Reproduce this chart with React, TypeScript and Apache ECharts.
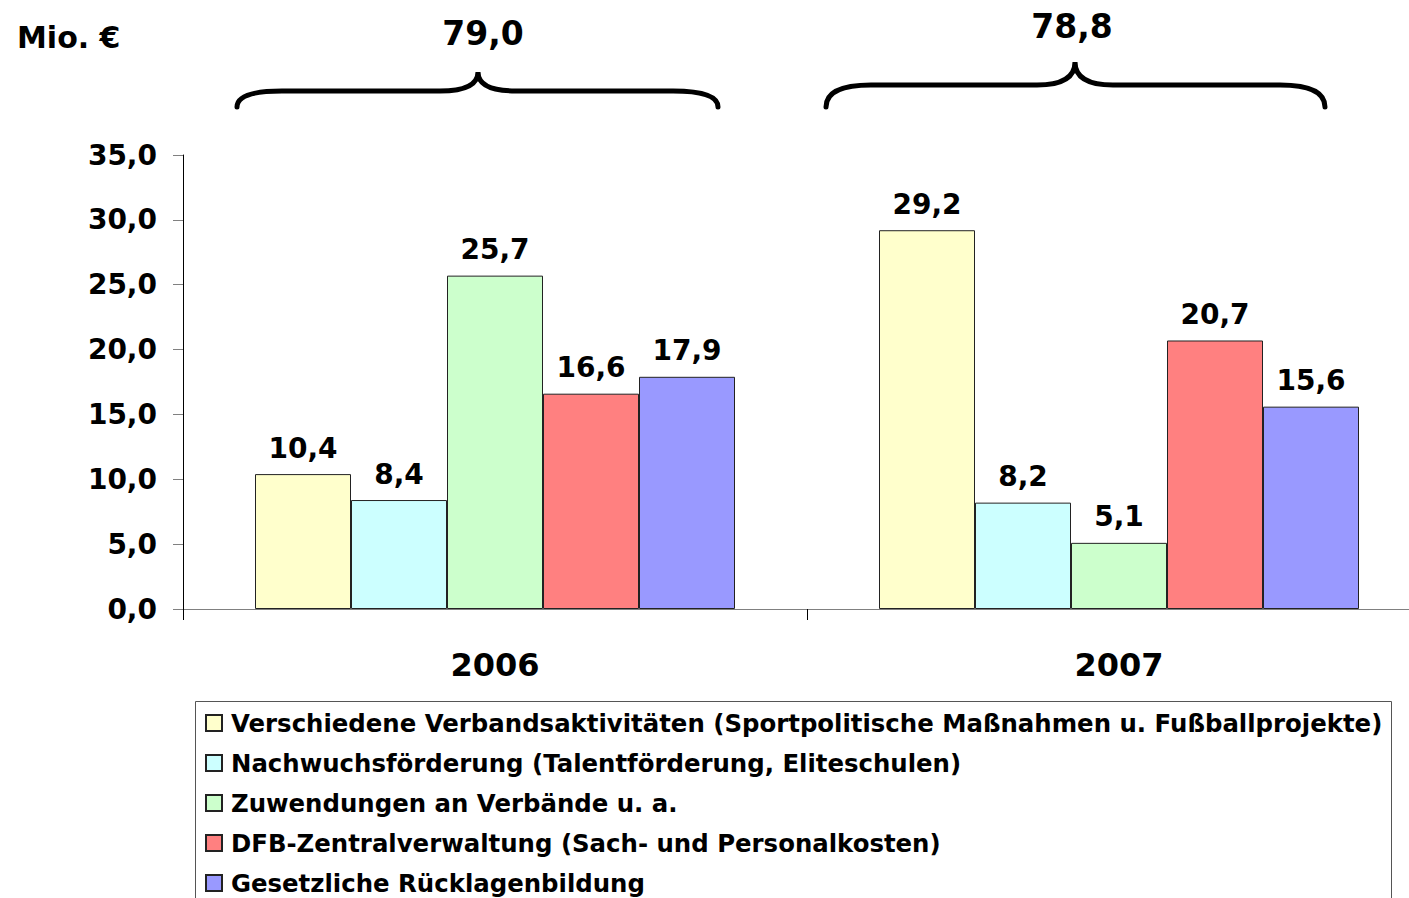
import React, { useEffect, useRef } from "react";
import * as echarts from "echarts";

const years = ["2006", "2007"];
const seriesNames = [
  "Verschiedene Verbandsaktivitäten (Sportpolitische Maßnahmen u. Fußballprojekte)",
  "Nachwuchsförderung (Talentförderung, Eliteschulen)",
  "Zuwendungen an Verbände u. a.",
  "DFB-Zentralverwaltung (Sach- und Personalkosten)",
  "Gesetzliche Rücklagenbildung",
];
const verbandsaktivitaeten = [10.4, 29.2];
const nachwuchs = [8.4, 8.2];
const zuwendungen = [25.7, 5.1];
const zentralverwaltung = [16.6, 20.7];
const ruecklagen = [17.9, 15.6];
const seriesValues = [verbandsaktivitaeten, nachwuchs, zuwendungen, zentralverwaltung, ruecklagen];
const colors = ["#FFFFCC", "#CCFFFF", "#CCFFCC", "#FF8080", "#9999FF"];
const totals = [79.0, 78.8];
const unitLabel = "Mio. €";

const FONT = "'DejaVu Sans', sans-serif";
const fmt = (v: number) => v.toFixed(1).replace(".", ",");

function bracePath(x1: number, x2: number, xc: number, yEnd: number, yMid: number, yPeak: number) {
  const r = 45;
  const r2 = 38;
  return (
    `M ${x1} ${yEnd} Q ${x1} ${yMid} ${x1 + r} ${yMid} ` +
    `L ${xc - r2} ${yMid} Q ${xc} ${yMid} ${xc} ${yPeak} ` +
    `Q ${xc} ${yMid} ${xc + r2} ${yMid} L ${x2 - r} ${yMid} ` +
    `Q ${x2} ${yMid} ${x2} ${yEnd}`
  );
}

let registered = false;
function registerShapes() {
  if (registered) return;
  registered = true;
  echarts.graphic.registerShape(
    "braceLeft",
    echarts.graphic.extendPath(bracePath(237, 718, 478, 107, 91, 72), {})
  );
  echarts.graphic.registerShape(
    "braceRight",
    echarts.graphic.extendPath(bracePath(826, 1325, 1075, 107, 85, 62), {})
  );
}

export default function App() {
  const ref = useRef<HTMLDivElement>(null);
  useEffect(() => {
    if (!ref.current) return;
    registerShapes();
    const chart = echarts.init(ref.current, undefined, { renderer: "svg" });
    const braceStyle = { stroke: "#000", lineWidth: 5, fill: null, lineCap: "round" };
    chart.setOption({
      animation: false,
      backgroundColor: "#fff",
      grid: { left: 183, right: 9, top: 155, bottom: 289, containLabel: false },
      xAxis: {
        type: "category",
        data: years,
        axisLine: { show: true, lineStyle: { color: "#808080", width: 1 } },
        axisTick: { show: true, length: 11, lineStyle: { color: "#000", width: 1 } },
        axisLabel: {
          margin: 40,
          fontFamily: FONT,
          fontWeight: "bold",
          fontSize: 32,
          color: "#000",
        },
      },
      yAxis: {
        type: "value",
        min: 0,
        max: 35,
        interval: 5,
        splitLine: { show: false },
        axisLine: { show: true, lineStyle: { color: "#000", width: 1 } },
        axisTick: { show: true, length: 10, lineStyle: { color: "#808080", width: 1 } },
        axisLabel: {
          margin: 26,
          formatter: (v: number) => fmt(v),
          fontFamily: FONT,
          fontWeight: "bold",
          fontSize: 28,
          color: "#000",
        },
      },
      legend: {
        orient: "vertical",
        left: 205,
        top: 711,
        padding: 0,
        itemWidth: 16,
        itemHeight: 16,
        itemGap: 16,
        icon: "rect",
        textStyle: {
          fontFamily: FONT,
          fontWeight: "bold",
          fontSize: 24.4,
          lineHeight: 24,
          color: "#000",
          padding: [0, 0, 0, 4],
        },
        data: seriesNames,
      },
      series: seriesNames.map((name, i) => ({
        name,
        type: "bar",
        data: seriesValues[i],
        barWidth: 96,
        barGap: "0%",
        itemStyle: { color: colors[i], borderColor: "#222", borderWidth: 1 },
        label: {
          show: true,
          position: "top",
          distance: 12,
          formatter: (p: any) => fmt(p.value),
          fontFamily: FONT,
          fontWeight: "bold",
          fontSize: 28,
          color: "#000",
        },
      })),
      graphic: [
        {
          type: "text",
          left: 17,
          top: 22,
          style: { text: unitLabel, font: `bold 30px ${FONT}`, fill: "#000" },
        },
        {
          type: "text",
          x: 483,
          y: 33,
          style: {
            text: fmt(totals[0]),
            font: `bold 33px ${FONT}`,
            fill: "#000",
            align: "center",
            verticalAlign: "middle",
          },
        },
        {
          type: "text",
          x: 1072,
          y: 26,
          style: {
            text: fmt(totals[1]),
            font: `bold 33px ${FONT}`,
            fill: "#000",
            align: "center",
            verticalAlign: "middle",
          },
        },
        { type: "braceLeft", x: 0, y: 0, style: braceStyle },
        { type: "braceRight", x: 0, y: 0, style: braceStyle },
        {
          type: "rect",
          shape: { x: 195.5, y: 701.5, width: 1196, height: 260 },
          style: { fill: null, stroke: "#555", lineWidth: 1 },
          z: -1,
        },
      ],
    });
    return () => chart.dispose();
  }, []);
  return (
    <div
      style={{
        position: "fixed",
        left: 0,
        top: 0,
        width: 1409,
        height: 898,
        overflow: "hidden",
        background: "#fff",
      }}
    >
      <div ref={ref} style={{ width: 1440, height: 898 }} />
    </div>
  );
}
